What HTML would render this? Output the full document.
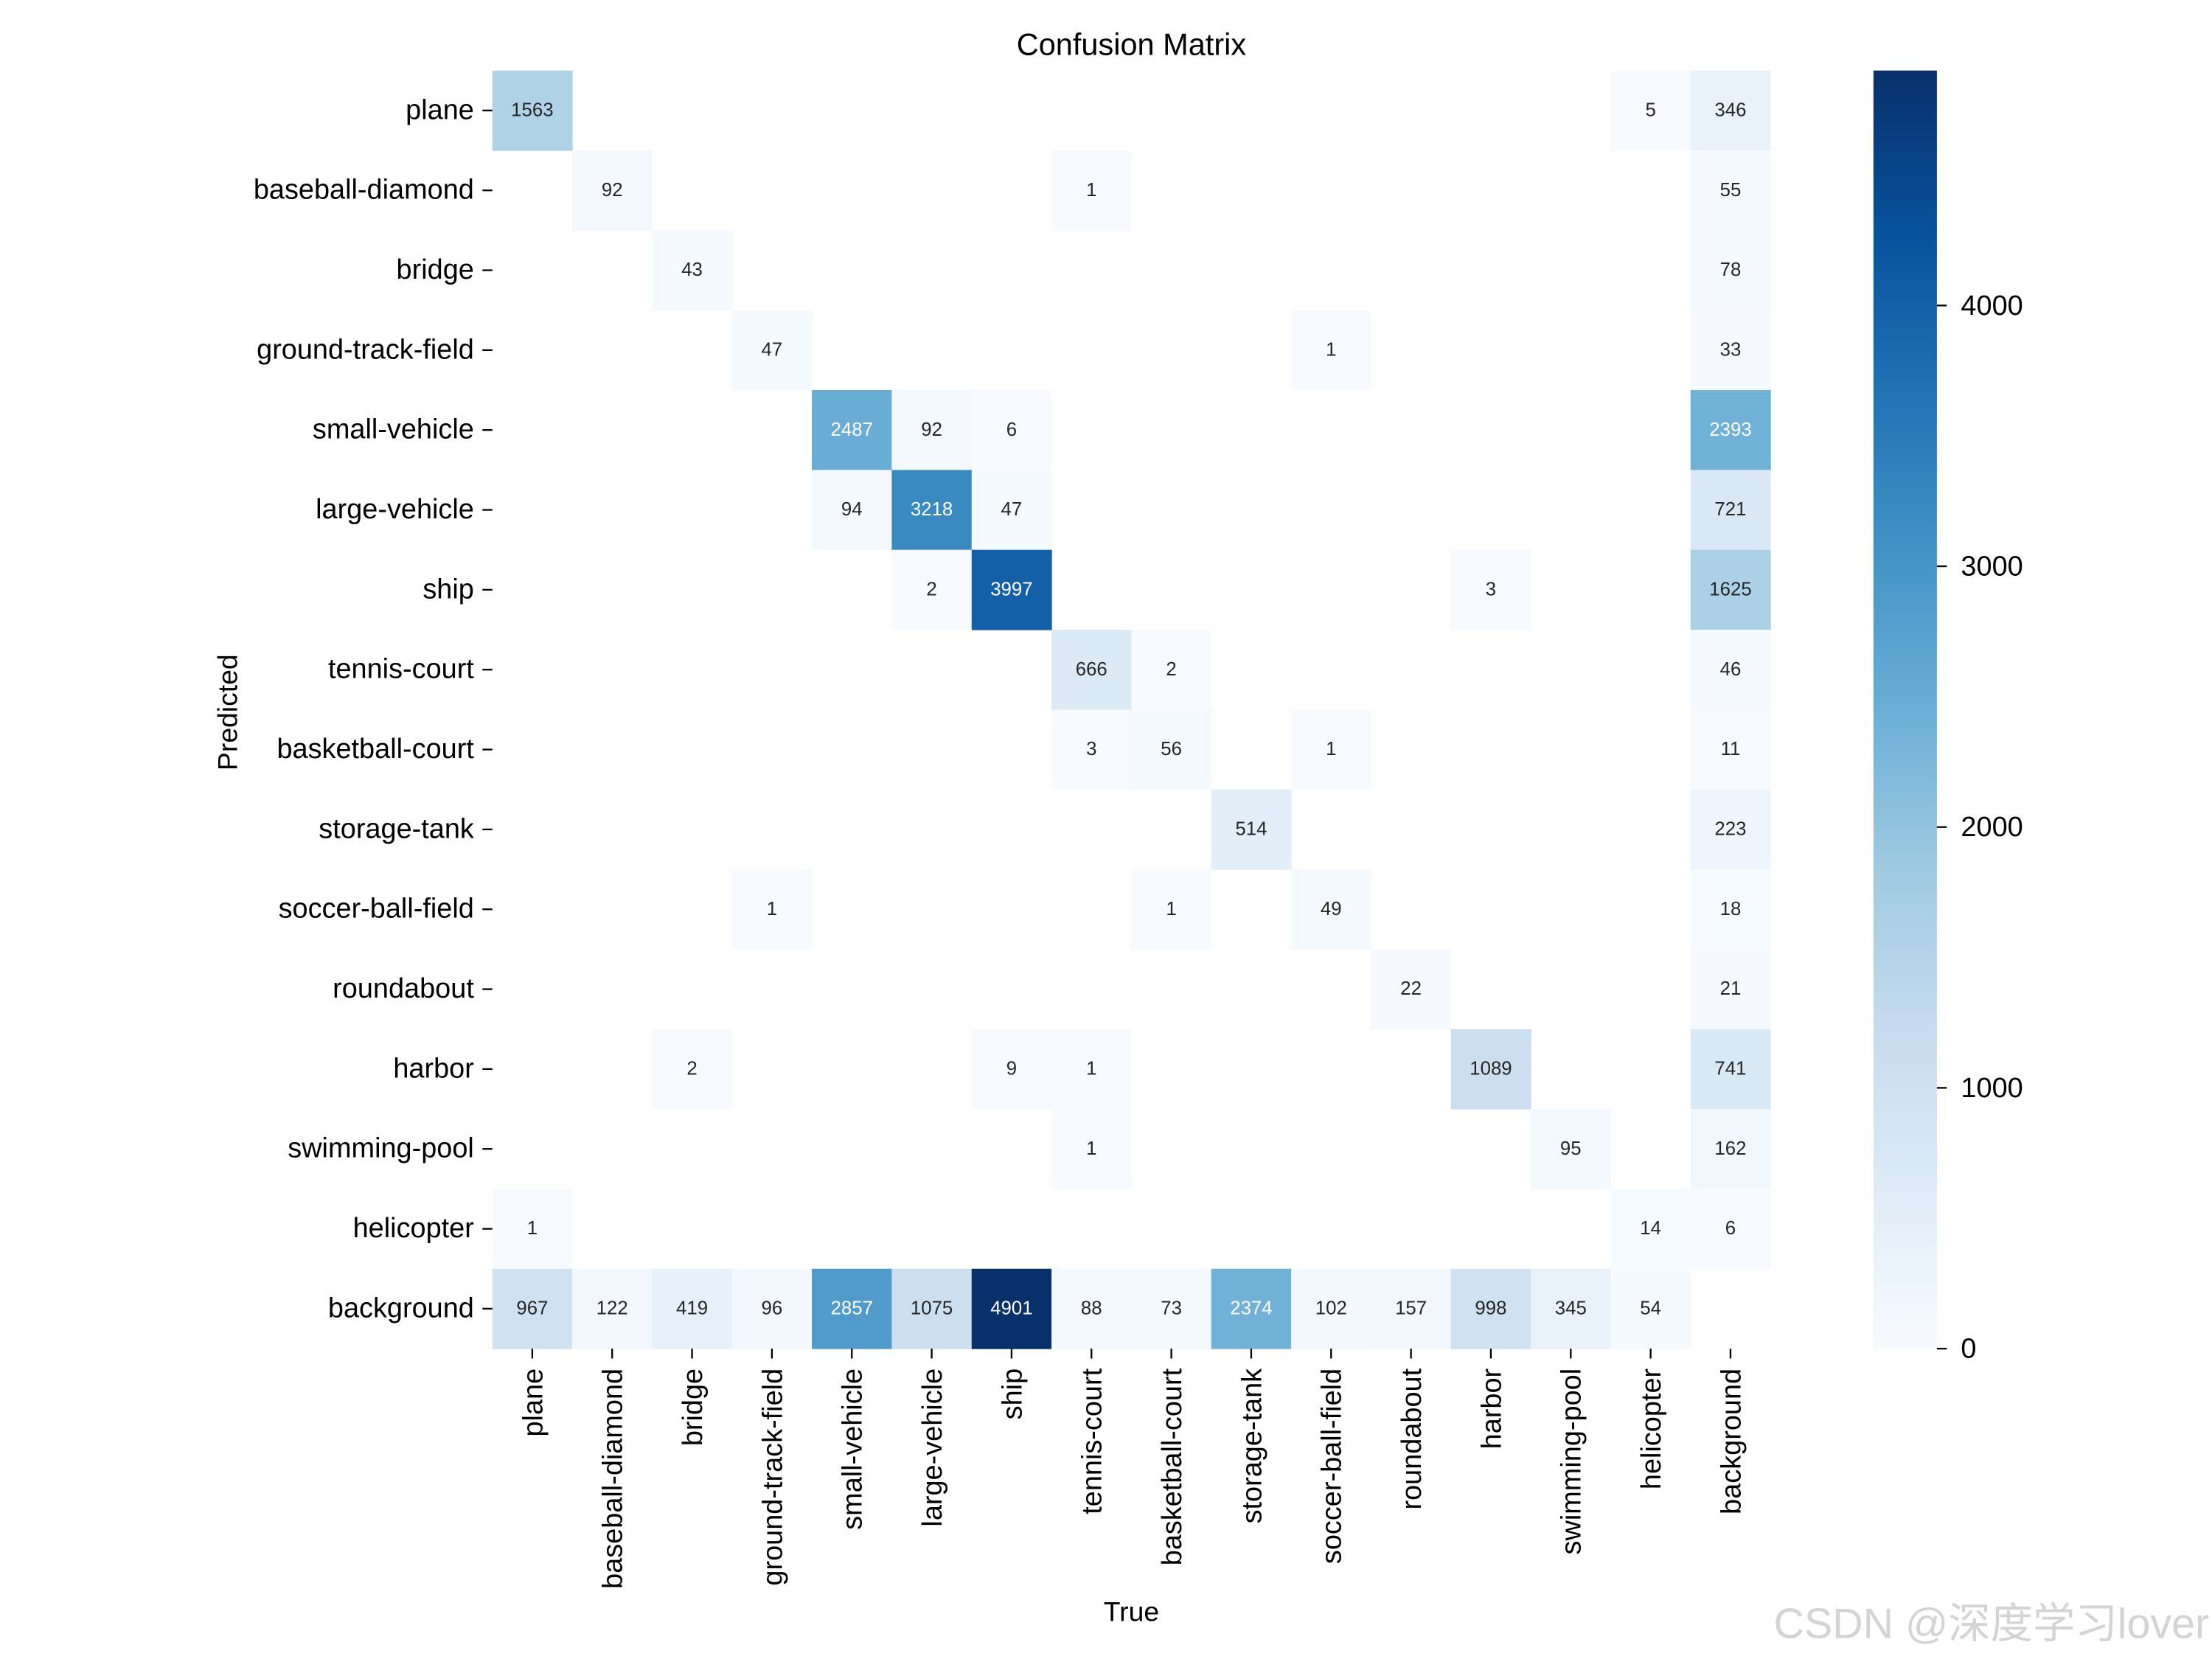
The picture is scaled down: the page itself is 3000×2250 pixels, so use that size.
<!DOCTYPE html>
<html><head><meta charset="utf-8"><style>
html,body{margin:0;padding:0;background:#fff;}
svg{display:block;}
text{font-family:"Liberation Sans","Noto Sans CJK SC",sans-serif;}
</style></head><body>
<svg id="chart" width="3000" height="2250" viewBox="0 0 1568 1176" xmlns="http://www.w3.org/2000/svg">
<rect x="0" y="0" width="1568" height="1176" fill="#fff"/>
<text x="802" y="39" font-size="21.7" text-anchor="middle" fill="#000">Confusion Matrix</text>
<text x="802" y="1149" font-size="19.5" text-anchor="middle" fill="#000">True</text>
<text transform="translate(168,505) rotate(-90)" font-size="19.5" text-anchor="middle" fill="#000">Predicted</text>
<g id="cells"></g>
<g id="xt"></g>
<g id="yt"></g>
<g id="cb"></g>
<text x="1566" y="1161" font-size="30" text-anchor="end" fill="#d4d4d4">CSDN @深度学习lover</text>
</svg>
<script>
const categories = ["plane","baseball-diamond","bridge","ground-track-field","small-vehicle","large-vehicle","ship","tennis-court","basketball-court","storage-tank","soccer-ball-field","roundabout","harbor","swimming-pool","helicopter","background"];
const row_plane = [1563,0,0,0,0,0,0,0,0,0,0,0,0,0,5,346];
const row_baseball = [0,92,0,0,0,0,0,1,0,0,0,0,0,0,0,55];
const row_bridge = [0,0,43,0,0,0,0,0,0,0,0,0,0,0,0,78];
const row_gtf = [0,0,0,47,0,0,0,0,0,0,1,0,0,0,0,33];
const row_small = [0,0,0,0,2487,92,6,0,0,0,0,0,0,0,0,2393];
const row_large = [0,0,0,0,94,3218,47,0,0,0,0,0,0,0,0,721];
const row_ship = [0,0,0,0,0,2,3997,0,0,0,0,0,3,0,0,1625];
const row_tennis = [0,0,0,0,0,0,0,666,2,0,0,0,0,0,0,46];
const row_basket = [0,0,0,0,0,0,0,3,56,0,1,0,0,0,0,11];
const row_storage = [0,0,0,0,0,0,0,0,0,514,0,0,0,0,0,223];
const row_soccer = [0,0,0,1,0,0,0,0,1,0,49,0,0,0,0,18];
const row_round = [0,0,0,0,0,0,0,0,0,0,0,22,0,0,0,21];
const row_harbor = [0,0,2,0,0,0,9,1,0,0,0,0,1089,0,0,741];
const row_swim = [0,0,0,0,0,0,0,1,0,0,0,0,0,95,0,162];
const row_heli = [1,0,0,0,0,0,0,0,0,0,0,0,0,0,14,6];
const row_bg = [967,122,419,96,2857,1075,4901,88,73,2374,102,157,998,345,54,0];
const matrix = [row_plane,row_baseball,row_bridge,row_gtf,row_small,row_large,row_ship,row_tennis,row_basket,row_storage,row_soccer,row_round,row_harbor,row_swim,row_heli,row_bg];
const cbTicks = [0,1000,2000,3000,4000];

const NS="http://www.w3.org/2000/svg";
const X0=349,Y0=50,W=906,H=906,n=categories.length,cw=W/n,ch=H/n;
const FS=19.8;
const vmax=Math.max(...matrix.flat());
const stops=[[247,251,255],[222,235,247],[198,219,239],[158,202,225],[107,174,214],[66,146,198],[33,113,181],[8,81,156],[8,48,107]];
function color(v){let t=Math.max(0,Math.min(1,v/vmax))*(stops.length-1);let i=Math.min(Math.floor(t),stops.length-2),f=t-i;const c=stops[i].map((a,k)=>Math.round(a+(stops[i+1][k]-a)*f));return `rgb(${c[0]},${c[1]},${c[2]})`;}
function xs(j){return X0+j*cw;} function ys(i){return Y0+i*ch;}
function mk(tag,attrs,parent){const e=document.createElementNS(NS,tag);for(const k in attrs)e.setAttribute(k,attrs[k]);parent.appendChild(e);return e;}
const cells=document.getElementById('cells');
matrix.forEach((row,i)=>row.forEach((v,j)=>{
  if(v<=0)return;
  const r=mk('rect',{x:xs(j),y:ys(i),width:cw+0.3,height:ch+0.3,fill:color(v)},cells);
  
  
  const t=mk('text',{x:xs(j)+cw/2,y:ys(i)+ch/2+4,'font-size':13.5,'text-anchor':'middle',fill:(v/vmax>0.4?'#fff':'#262626')},cells);
  t.textContent=v;
  
  
}));
const xt=document.getElementById('xt'),yt=document.getElementById('yt');
categories.forEach((c,k)=>{
  const cx=xs(k)+cw/2;
  mk('line',{x1:cx,y1:Y0+H,x2:cx,y2:Y0+H+7,stroke:'#000','stroke-width':1.2},xt);
  const t=mk('text',{transform:`translate(${cx+7},${Y0+H+14}) rotate(-90)`,'font-size':FS,'text-anchor':'end',fill:'#000'},xt);
  t.textContent=c;
  
  
  const cy=ys(k)+ch/2;
  mk('line',{x1:X0-7,y1:cy,x2:X0,y2:cy,stroke:'#000','stroke-width':1.2},yt);
  const u=mk('text',{x:X0-13,y:cy+6,'font-size':FS,'text-anchor':'end',fill:'#000'},yt);
  u.textContent=c;
  
  
});
const cb=document.getElementById('cb');
const CX=1328,CW=45;
const defs=mk('defs',{},cb);
const g=mk('linearGradient',{id:'cbg',x1:0,y1:1,x2:0,y2:0},defs);
stops.forEach((s,k)=>mk('stop',{offset:k/(stops.length-1),'stop-color':`rgb(${s})`},g));
const bar=mk('rect',{x:CX,y:Y0,width:CW,height:H,fill:'url(#cbg)'},cb);


cbTicks.forEach(v=>{
  const y=Y0+H-v/vmax*H;
  mk('line',{x1:CX+CW,y1:y,x2:CX+CW+7,y2:y,stroke:'#000','stroke-width':1.2},cb);
  const t=mk('text',{x:CX+CW+17,y:y+6.5,'font-size':FS,fill:'#000'},cb);
  t.textContent=v;
  
  
});
</script>
</body></html>
